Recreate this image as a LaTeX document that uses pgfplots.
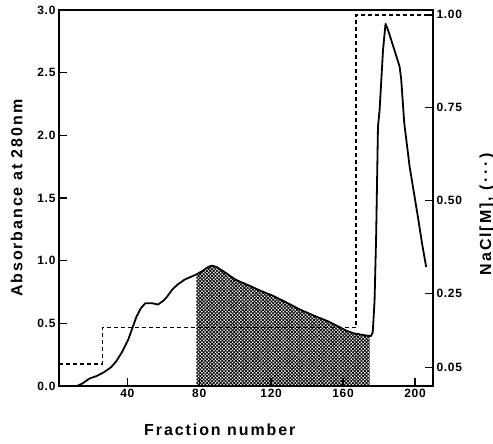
\documentclass[border=0pt]{standalone}
\usepackage{fontspec}
\setmainfont{Liberation Sans}[LetterSpace=6]
\newfontfamily\labfont{Liberation Sans}[LetterSpace=12]
\usepackage{pgfplots}
\pgfplotsset{compat=1.18}
\usetikzlibrary{patterns.meta}
\begin{document}
\begin{tikzpicture}
\begin{axis}[name=main, scale only axis, width=374pt, height=376pt,
  xmin=2, xmax=210, ymin=0, ymax=3,
  xtick={40,80,120,160,200}, ytick={0,0.5,1,1.5,2,2.5,3},
  xtick pos=bottom, ytick pos=left, tick align=inside, major tick length=8pt,
  axis line style={line width=1.5pt}, every tick/.style={line width=1.4pt, black},
  tick label style={font=\fontsize{12}{14}\selectfont\bfseries},
  /pgf/number format/assume math mode=true,
  yticklabel style={/pgf/number format/.cd, fixed, fixed zerofill, precision=1, assume math mode=true},
  xlabel={Fraction number}, ylabel={Absorbance at 280\,nm},
  label style={font=\labfont\fontsize{16}{19}\selectfont\bfseries},
  xlabel style={at={(axis description cs:0.43,0)}, anchor=north, yshift=-34pt},
  ylabel style={at={(axis description cs:0,0.5)}, anchor=south, yshift=33pt},
  clip=false]
\addplot[draw=none, pattern={Hatch[angle=45, distance=2.4pt, line width=0.8pt]}, pattern color=black] coordinates {
(78.4,0) (78.4,0.89) (82,0.92) (85,0.95) (87,0.96) (89.6,0.95) (95,0.9) (100,0.85) (103,0.83) (108,0.8) (114,0.76) (121,0.72) (128,0.67) (136,0.61) (144,0.56) (151,0.52) (158,0.47) (162,0.44) (166,0.42) (170,0.41) (174.7,0.40) (174.7,0)} -- cycle;
\addplot[black, line width=1.8pt, line join=round] coordinates {
(2.5,0) (12,0) (15,0.02) (19,0.06) (23,0.08) (27,0.11) (31,0.15) (34,0.2) (37,0.27) (40.5,0.37) (43,0.47) (45,0.55) (47.5,0.62) (50,0.66) (54,0.66) (57,0.65) (60,0.68) (62,0.71) (65,0.77) (68,0.81) (72,0.85) (78.4,0.89) (82,0.92) (85,0.95) (87,0.96) (89.6,0.95) (95,0.9) (100,0.85) (103,0.83) (108,0.8) (114,0.76) (121,0.72) (128,0.67) (136,0.61) (144,0.56) (151,0.52) (158,0.47) (162,0.44) (166,0.42) (170,0.41) (174,0.40) (175.6,0.40) (176.5,0.43) (177.5,0.68) (178.4,1.21) (179.4,2.07) (180.3,2.2) (182.2,2.68) (183.6,2.89) (185,2.84) (187,2.75) (189,2.66) (191.4,2.55) (192.3,2.45) (194,2.1) (197,1.75) (201.6,1.35) (204,1.13) (206.2,0.95)};
\end{axis}
\begin{axis}[scale only axis, width=374pt, height=376pt,
  xmin=2, xmax=210, ymin=0, ymax=1.013,
  hide x axis, axis y line*=right,
  ytick={0.05,0.25,0.5,0.75,1}, tick align=inside, major tick length=8pt,
  axis line style={line width=1.5pt}, every tick/.style={line width=1.4pt, black},
  tick label style={font=\fontsize{12}{14}\selectfont\bfseries},
  yticklabel style={/pgf/number format/.cd, fixed, fixed zerofill, precision=2, assume math mode=true},
  ylabel={NaCl[M], (\,·\,·\,·\,)},
  label style={font=\labfont\fontsize{16}{19}\selectfont\bfseries},
  ylabel style={at={(axis description cs:1,0.457)}, anchor=north, yshift=-43pt},
  clip=false]
\addplot[black, line width=1.6pt, dash pattern=on 4pt off 3pt] coordinates {
(2,0.06) (26.2,0.06) (26.2,0.158) (167.3,0.158) (167.3,1.0) (210,1.0)};
\end{axis}
\pgfresetboundingbox
\path[use as bounding box] ([shift={(-59pt,-58pt)}]main.south west) rectangle ([shift={(60pt,10pt)}]main.north east);
\end{tikzpicture}
\end{document}
